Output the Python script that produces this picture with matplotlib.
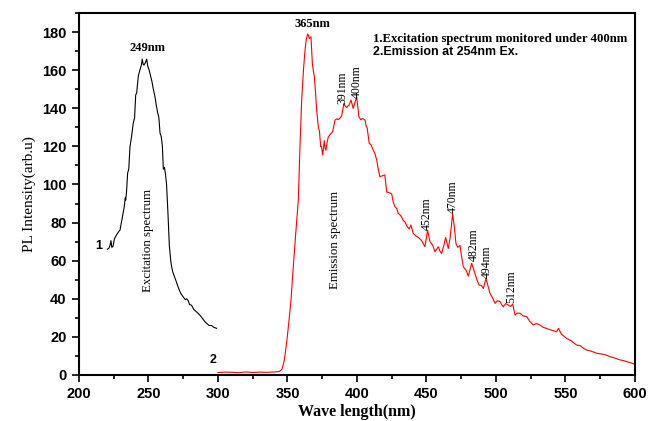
import numpy as np
import matplotlib
matplotlib.use("Agg")
import matplotlib.pyplot as plt
from matplotlib.ticker import MultipleLocator

# excitation spectrum (curve 1), monitored at 400 nm
exc_wl = [220.4, 221.5, 222.3, 223.0, 223.6, 224.5, 225.5, 227.0, 228.8, 229.5,
          230.5, 231.5, 232.5, 233.3, 233.6, 234.2, 235.0, 235.8, 236.7, 237.8,
          239.0, 240.0, 240.8, 241.5, 242.7, 243.8, 245.0, 245.5, 246.2, 246.8,
          247.8, 248.7, 249.5, 250.5, 251.5, 252.5, 253.5, 254.7, 255.5, 256.5,
          257.5, 258.3, 259.2, 260.0, 260.7, 261.5, 262.3, 263.0, 264.0, 265.0,
          266.0, 266.6, 267.5, 269.0, 270.0, 271.4, 272.5, 273.5, 275.0, 276.5,
          277.5, 278.6, 279.5, 281.0, 282.5, 284.0, 285.8, 287.5, 289.0, 290.6,
          292.0, 293.5, 295.4, 297.0, 299.0]
exc_int = [66.0, 66.5, 68.0, 70.5, 67.0, 67.5, 71.5, 73.5, 75.5, 76.0,
           80.0, 84.0, 88.0, 93.0, 91.8, 96.0, 106.0, 108.0, 119.8, 125.0,
           132.0, 135.0, 147.0, 148.0, 157.0, 160.0, 163.0, 165.8, 163.0, 162.7,
           164.0, 165.8, 162.0, 160.0, 157.0, 154.0, 150.0, 146.0, 142.0, 138.0,
           135.0, 127.0, 125.0, 120.0, 108.0, 109.0, 105.0, 100.0, 85.0, 68.0,
           60.0, 57.0, 54.0, 51.0, 49.0, 46.0, 44.0, 42.5, 41.0, 39.5,
           40.0, 39.0, 37.0, 36.6, 34.5, 33.5, 32.3, 31.0, 29.5, 28.0,
           27.0, 26.0, 26.0, 25.0, 24.5]

# emission spectrum (curve 2), excited at 254 nm
em_wl = [300, 305, 310, 315, 320, 325, 330, 335, 338, 341,
         344, 346, 347.5, 348.7, 350, 351.3, 352.5, 354, 355.5, 357,
         357.8, 359, 360.2, 361.5, 362.6, 363.5, 364.5, 365.2, 365.7, 366.9,
         367.9, 368.5, 369.3, 370.2, 371, 372.2, 373, 373.9, 374.5, 375.3,
         376.5, 377.1, 377.7, 378.5, 379.4, 381, 382.5, 384.2, 385.5, 386.5,
         388, 389, 390.6, 391.6, 392.6, 393.4, 394.2, 395.7, 397.3, 398.5,
         399.8, 400.6, 401.4, 402.7, 404, 405.8, 406.5, 407.4, 408.8, 410,
         411.7, 413, 414.2, 415.3, 416.5, 418, 420, 421.4, 423, 425,
         426, 427.3, 428.5, 429.7, 431, 432.1, 433.3, 434.5, 436, 437.6,
         438.8, 440.5, 442.3, 444.1, 446.5, 448.9, 450.8, 452.5, 454.4, 456.1,
         457.3, 458.5, 459.7, 460.9, 462.5, 463.8, 465.7, 467, 468.8, 470,
         471.2, 472.5, 474.1, 475.3, 476.5, 478.5, 480.1, 482.5, 484.9, 486.3,
         487.8, 489.5, 490.9, 492.8, 494.3, 495.7, 497.5, 499.3, 501, 502.9,
         504, 505.3, 507, 508.9, 510.5, 512, 513.7, 515.5, 517.3, 519.5,
         522.1, 524.5, 526.8, 529, 531.7, 534, 536.4, 540, 543.6, 545,
         547, 550.8, 554, 558, 560.4, 563, 565.2, 568.5, 572.4, 576,
         579, 582, 585, 589.2, 592, 595, 597.5, 600]
em_int = [1.3, 1.5, 1.4, 1.2, 1.6, 1.3, 1.5, 1.4, 1.5, 1.6,
          1.8, 3, 7, 13, 21, 30, 39, 55, 70, 84,
          92, 120, 144, 160, 170.5, 176, 179, 178, 176.6, 177.5,
          163.5, 160, 156.7, 148, 139, 130, 128, 119.8, 120, 115.4,
          123, 119, 118, 122, 125, 126.5, 127.7, 133.8, 134.5, 134,
          135, 136, 142.5, 141, 140.4, 141.2, 141.6, 144.3, 139.9, 143,
          146, 141, 135.5, 134, 134.6, 133.8, 131, 129.4, 121.5, 121,
          118, 116, 112.8, 108, 104, 104.5, 105, 96, 95.8, 95,
          91, 88.3, 87.5, 84.8, 84, 83, 81, 80.4, 78, 76.6,
          78.7, 74.3, 73, 72.2, 70.5, 67.3, 76, 70, 68.2, 64.7,
          66, 67.3, 65, 63.8, 68, 72.2, 66.4, 72, 84.5, 78,
          69, 67, 68, 62, 56.8, 55, 51.9, 58.6, 53.3, 50,
          47.2, 47, 45.4, 50.7, 46.5, 42.8, 40.5, 37.6, 39, 38.5,
          37, 35.8, 37.5, 36.7, 36, 37.2, 31.5, 32.5, 32.4, 31,
          30.6, 28, 26.2, 27, 26.2, 25, 24.4, 23.5, 22.7, 24.5,
          21.5, 19.2, 18, 15.7, 15.5, 14, 13.1, 12.5, 11.4, 11,
          10.5, 9.6, 9.0, 7.9, 7.5, 6.8, 6.3, 5.6]
assert len(exc_wl) == len(exc_int) and len(em_wl) == len(em_int)

# peak labels (text, x, y)
peak_labels = ["391nm", "400nm", "452nm", "470nm", "482nm", "494nm", "512nm"]
peak_x = [389.4, 400.2, 450.1, 469.3, 484.4, 493.7, 511.3]
peak_y = [151, 154, 84.8, 93.5, 68.2, 59.4, 46.3]

serif = "Liberation Serif"
sans = "Liberation Sans"

fig = plt.figure(figsize=(6.49, 4.21), dpi=100)
ax = fig.add_axes([0.1217, 0.1093, 0.8567, 0.8598])

ax.plot(exc_wl, exc_int, color="black", lw=0.8)
ax.plot(em_wl, em_int, color="red", lw=0.8)

ax.set_xlim(200, 600)
ax.set_ylim(0, 190)
ax.xaxis.set_major_locator(MultipleLocator(50))
ax.xaxis.set_minor_locator(MultipleLocator(25))
ax.yaxis.set_major_locator(MultipleLocator(20))
ax.yaxis.set_minor_locator(MultipleLocator(10))
ax.tick_params(which="both", direction="out", top=False, right=False, width=1.2)
ax.tick_params(which="major", length=5, pad=4)
ax.tick_params(which="minor", length=3)
for lab in ax.get_xticklabels() + ax.get_yticklabels():
    lab.set_fontfamily(sans)
    lab.set_fontweight("bold")
    lab.set_fontsize(10.5)
for sp in ax.spines.values():
    sp.set_linewidth(1.5)

ax.set_xlabel("Wave length(nm)", fontfamily=serif, fontweight="bold", fontsize=11.5, labelpad=2)
ax.set_ylabel("PL Intensity(arb.u)", fontfamily=serif, fontsize=11, labelpad=4)

ax.text(249.6, 171.6, "249nm", fontfamily=serif, fontweight="bold", fontsize=9, ha="center", va="center")
ax.text(368, 184, "365nm", fontfamily=serif, fontweight="bold", fontsize=9, ha="center", va="center")
ax.text(214.4, 67.7, "1", fontfamily=sans, fontweight="bold", fontsize=9, ha="center", va="center")
ax.text(296.4, 7.9, "2", fontfamily=sans, fontweight="bold", fontsize=9, ha="center", va="center")
ax.text(249.9, 70.8, "Excitation spectrum", fontfamily=serif, fontsize=9.3, rotation=90, ha="center", va="center")
ax.text(384, 70.8, "Emission spectrum", fontfamily=serif, fontsize=9.3, rotation=90, ha="center", va="center")
ax.text(411.3, 176.6, "1.Excitation spectrum monitored under 400nm", fontfamily=serif,
        fontweight="bold", fontsize=9.2, ha="left", va="center")
ax.text(411.3, 169.7, "2.Emission at 254nm Ex.", fontfamily=sans,
        fontweight="bold", fontsize=8.9, ha="left", va="center")
for t, x, y in zip(peak_labels, peak_x, peak_y):
    ax.text(x, y, t, fontfamily=serif, fontsize=8.5, rotation=90, ha="center", va="center")

fig.savefig("out.png", dpi=100)
